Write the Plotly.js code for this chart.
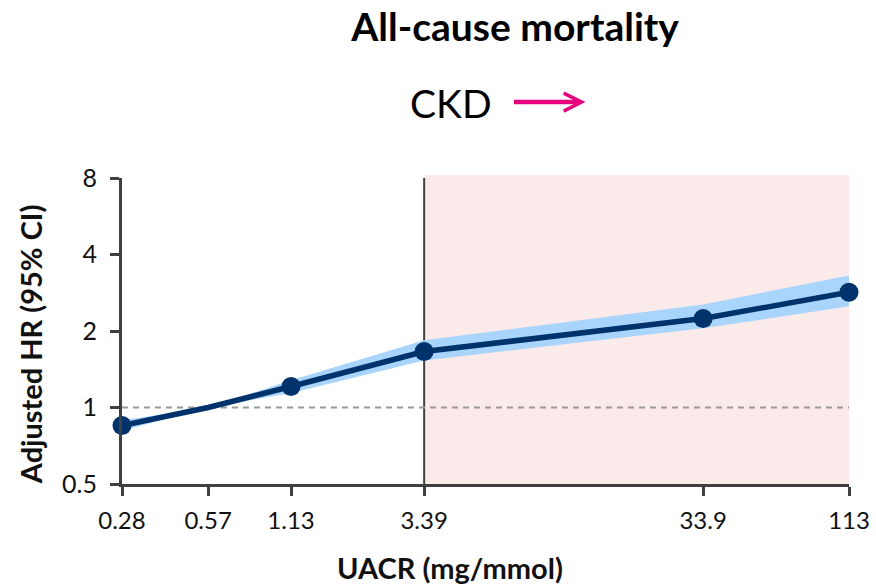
<!DOCTYPE html>
<html>
<head>
<meta charset="utf-8">
<script src="https://cdn.plot.ly/plotly-3.0.1.min.js"></script>
<style>html,body{margin:0;padding:0;background:#fff;}#chart{width:876px;height:586px;}</style>
</head>
<body>
<div id="chart"></div>
<script>
// UACR categories (mg/mmol) and adjusted hazard ratios
const uacr = [0.28, 0.57, 1.13, 3.39, 33.9, 113];
const hr = [0.85, 1.0, 1.21, 1.66, 2.24, 2.84];
const hrLower = [0.81, 1.0, 1.14, 1.53, 2.05, 2.50];
const hrUpper = [0.89, 1.0, 1.28, 1.84, 2.54, 3.31];
const markerUacr = [0.28, 1.13, 3.39, 33.9, 113];
const markerHr = [0.85, 1.21, 1.66, 2.24, 2.84];
const xTickVals = [0.28, 0.57, 1.13, 3.39, 33.9, 113];
const xTickText = ["0.28", "0.57", "1.13", "3.39", "33.9", "113"];
const yTickVals = [0.5, 1, 2, 4, 8];
const yTickText = ["0.5", "1", "2", "4", "8"];
const ckdThreshold = 3.39;
const refHR = 1;

const navy = '#00336b';
const band = '#a9d4fb';
const axisCol = '#404040';
const font = 'Lato, "Open Sans", sans-serif';

const traces = [
  {x: uacr, y: hrLower, mode: 'lines', line: {width: 0, color: band}, hoverinfo: 'skip', showlegend: false},
  {x: uacr, y: hrUpper, mode: 'lines', fill: 'tonexty', fillcolor: band, line: {width: 0, color: band}, hoverinfo: 'skip', showlegend: false},
  {x: uacr, y: hr, mode: 'lines', line: {width: 5.5, color: navy}, showlegend: false},
  {x: markerUacr, y: markerHr, mode: 'markers', marker: {size: 19, color: navy}, showlegend: false, cliponaxis: false}
];

const xMin = uacr[0], xMax = uacr[uacr.length - 1];

const layout = {
  width: 876, height: 586,
  margin: {l: 122, r: 27, t: 178, b: 102},
  paper_bgcolor: '#fff', plot_bgcolor: 'rgba(0,0,0,0)',
  font: {family: font, color: '#111', size: 21},
  title: {text: '<b>All-cause mortality</b>', font: {family: font, size: 39, color: '#000'},
          x: 0.588, xref: 'container', xanchor: 'center', y: 0.953, yref: 'container', yanchor: 'middle'},
  xaxis: {type: 'log', range: [Math.log10(xMin), Math.log10(xMax)],
          tickvals: xTickVals, ticktext: xTickText, ticks: 'outside', ticklen: 9, tickwidth: 3, tickcolor: axisCol,
          showline: true, linewidth: 3, linecolor: axisCol, showgrid: false, zeroline: false, ticklabelstandoff: 4,
          tickfont: {size: 24, family: font, color: '#111'}},
  yaxis: {type: 'log', range: [Math.log10(0.5), Math.log10(8)],
          tickvals: yTickVals, ticktext: yTickText, ticks: 'outside', ticklen: 9, tickwidth: 3, tickcolor: axisCol,
          showline: true, linewidth: 3, linecolor: axisCol, showgrid: false, zeroline: false, ticklabelstandoff: 8,
          tickfont: {size: 25, family: font, color: '#111'}},
  shapes: [
    {type: 'rect', xref: 'x', yref: 'paper', x0: ckdThreshold, x1: xMax, y0: 0, y1: 1.01, fillcolor: '#fbeaea', line: {width: 0}, layer: 'below'},
    {type: 'line', xref: 'x', yref: 'y', x0: xMin, x1: xMax, y0: refHR, y1: refHR, line: {color: '#999', width: 2, dash: '6px,5px'}, layer: 'below'},
    {type: 'line', xref: 'x', yref: 'paper', x0: ckdThreshold, x1: ckdThreshold, y0: 0, y1: 1, line: {color: axisCol, width: 2}, layer: 'below'}
  ],
  annotations: [
    {text: '<b>Adjusted HR (95% CI)</b>', xref: 'paper', yref: 'paper', x: -0.1265, y: 0.457, xanchor: 'center', yanchor: 'middle',
     textangle: -90, showarrow: false, font: {size: 29, family: font, color: '#111'}},
    {text: '<b>UACR (mg/mmol)</b>', xref: 'paper', yref: 'paper', x: 0.451, y: -0.2745, xanchor: 'center', yanchor: 'middle',
     showarrow: false, font: {size: 29, family: font, color: '#111'}},
    {text: 'CKD', xref: 'paper', yref: 'paper', x: 0.4525, y: 1.245, xanchor: 'center', yanchor: 'middle',
     showarrow: false, font: {size: 39, family: font, color: '#000'}},
    {text: '', xref: 'paper', yref: 'paper', x: 0.6375, y: 1.248, ax: -73, ay: 0, axref: 'pixel', ayref: 'pixel',
     showarrow: true, arrowhead: 5, arrowsize: 0.78, arrowwidth: 4.5, arrowcolor: '#e6007e'}
  ]
};

Plotly.newPlot('chart', traces, layout, {displayModeBar: false, staticPlot: true});
</script>
</body>
</html>
